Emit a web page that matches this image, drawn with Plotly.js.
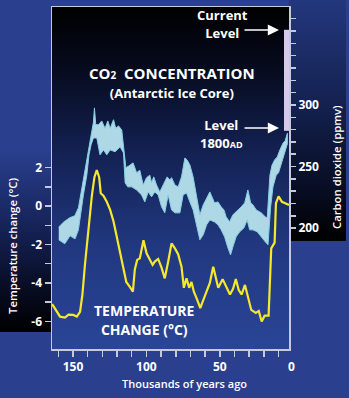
<!DOCTYPE html>
<html><head><meta charset="utf-8">
<script src="https://cdn.plot.ly/plotly-3.0.1.min.js"></script>
<style>
html,body{margin:0;padding:0;background:#2a408f;}
#wrap{position:relative;width:349px;height:398px;overflow:hidden;background:#2a408f;}
.bg{position:absolute;}
#plotbg{left:52px;top:7px;width:237px;height:342px;background:linear-gradient(to bottom,#000000 0%,#060b1e 18%,#121f4e 40%,#213880 70%,#2a4597 100%);}
#rightbg{left:289px;top:0;width:57px;height:241px;background:linear-gradient(to bottom,#23377c 0%,#152354 40%,#070c20 80%,#000 100%);}
#leftbg{left:0;top:150px;width:52px;height:182px;background:linear-gradient(to bottom,#2a408f 0%,#16245a 40%,#060a1c 80%,#000 100%);}
#chart{position:absolute;left:0;top:0;width:349px;height:398px;}
</style></head>
<body>
<div id="wrap">
  <div class="bg" id="plotbg"></div>
  <div class="bg" id="rightbg"></div>
  <div class="bg" id="leftbg"></div>
  <div id="chart"></div>
</div>
<script>
// ---- data (thousands of years ago) ----
const tempAge = [164.2,160.5,158.8,155.4,153.1,149.7,147.4,145.2,143.6,141.8,139.5,137.2,135.4,133.8,132.2,131.1,129.2,127.0,124.7,122.4,120.2,117.9,115.6,113.7,111.3,109.2,107.9,106.3,104.5,102.0,99.9,97.7,95.8,94.3,92.0,89.7,87.5,85.2,82.9,80.6,78.4,76.1,74.5,72.7,70.9,69.3,67.7,65.8,63.3,61.8,59.5,56.8,54.5,51.1,48.1,45.5,43.1,41.0,39.1,37.2,35.2,32.9,31.0,28.6,25.5,23.5,21.5,19.5,16.8,16.0,15.0,12.7,11.8,10.0,7.7,5.5,2.9];
const tempChange = [-5.1,-5.5,-5.75,-5.8,-5.65,-5.66,-5.75,-5.5,-4.6,-3.0,-1.1,0.5,1.5,1.87,1.5,0.66,0.52,0.22,-0.2,-0.8,-1.6,-2.45,-3.3,-3.95,-4.2,-4.45,-3.3,-2.8,-2.72,-1.78,-2.46,-2.8,-3.06,-2.89,-2.75,-3.2,-3.76,-2.9,-1.94,-2.2,-2.5,-3.15,-4.25,-3.76,-4.25,-3.95,-4.45,-4.8,-5.3,-5.0,-4.54,-4.0,-3.15,-4.25,-3.8,-4.2,-4.6,-4.3,-3.8,-4.35,-4.6,-4.1,-4.7,-5.4,-5.55,-5.45,-6.0,-5.7,-5.7,-3.7,-2.2,-1.9,0.14,0.5,0.22,0.14,0.05];

const co2UpperAge = [159.7,156.3,152.2,148.8,146.3,143.6,141.8,139.5,137.7,136.1,135.4,134.5,132.7,130.4,128.2,126.3,124.7,122.4,120.9,119.0,116.8,114.9,114.0,111.3,109.1,106.7,104.5,102.2,99.9,97.7,96.5,95.0,93.1,90.9,88.6,85.9,84.0,82.9,80.6,78.4,76.1,73.8,72.3,70.4,68.2,65.8,63.6,61.3,59.0,56.8,53.6,51.3,49.1,47.2,45.7,43.4,41.1,38.9,35.4,33.1,30.9,29.0,27.5,25.2,21.8,19.1,17.7,15.9,14.5,12.7,10.9,9.1,7.0,5.5,4.0];
const co2Upper = [201,205,208.5,210,216.5,235,249,265,278,286,297.6,284,284,287,281,287,281,288,281,283,279.7,261,249,251,253,245,247,235,241,243,237,241.6,235,229.4,235,241.6,239,241,235,233.5,241.6,257,255.4,251.3,241.6,224.6,210.8,218.9,224.6,229.4,220.5,221.3,217.3,214.8,209.2,205.1,210.8,213.2,217.3,220.5,231,220.5,219,214.8,212.4,209.2,208.4,243,251,255.4,257.8,263.5,269,271,277];
const co2LowerAge = [159.7,155.6,152.0,148.6,146.3,142.9,140.6,139.1,137.7,136.1,133.8,131.6,129.2,127.0,124.7,121.3,117.9,115.6,114.5,112.7,110.0,106.7,103.3,101.1,98.8,96.5,94.3,92.0,89.7,87.5,85.2,82.9,80.6,77.2,75.0,72.7,70.4,68.2,65.8,63.6,61.3,59.0,56.8,53.6,51.3,49.1,46.8,44.5,42.7,41.1,38.9,36.5,33.6,31.4,29.7,27.5,24.5,21.8,19.1,17.2,16.6,15.4,13.8,11.6,10.0,8.7,7.0,5.7,4.0];
const co2Lower = [190.5,187.3,193.8,191.3,198.6,227,243,259.5,267.6,273.2,273.2,259.5,263.5,259.5,263.5,262,266,261,236.7,233.5,233.5,231,227,221.3,229.4,225.4,229.4,227,217.3,212.4,227,214.8,212.4,212.4,227,228.6,221.3,214.8,202.7,190.5,194.6,202.7,206.7,205,202.7,198.6,193,184,178.3,184.8,193,197,200.2,206.7,198.6,198.6,197,193,189,186.5,198.6,217.3,233.5,243,245,249.7,255.4,262,268.4];

const recentAge = [4.6, 4.6];
const recentCO2 = [279, 361];

const xTickVals = [160,150,140,130,120,110,100,90,80,70,60,50,40,30,20,10];
const xTickText = ['','150','','','','','100','','','','','50','','','',''];
const tTickVals = [-6,-5,-4,-3,-2,-1,0,1,2];
const tTickText = ['-6','','-4','','-2','','0','','2'];
const cTickVals = [200,210,220,230,240,250,260,270,280,290,300,310,320,330,340,350,360,370];
const cTickText = ['200','','','','','250','','','','','300','','','','','','',''];

// ---- geometry helpers (plot area in px) ----
const L = 52, R = 289, T = 7, B = 349;
const px = x => (x - L) / (R - L);
const py = y => (B - y) / (B - T);

const bandX = co2UpperAge.concat(co2LowerAge.slice().reverse());
const bandY = co2Upper.concat(co2Lower.slice().reverse());

const traces = [
  {x: bandX, y: bandY, yaxis: 'y2', type: 'scatter', mode: 'lines', fill: 'toself',
   fillcolor: '#aed8e6', line: {color: '#86cfe4', width: 1}, hoverinfo: 'skip'},
  {x: recentAge, y: recentCO2, yaxis: 'y2', type: 'scatter', mode: 'lines',
   line: {color: '#d6c9ea', width: 5}, hoverinfo: 'skip'},
  {x: tempAge, y: tempChange, type: 'scatter', mode: 'lines',
   line: {color: '#f6e82a', width: 2.2}, hoverinfo: 'skip'}
];

const lineCol = '#c6c9de';
const F = '"Open Sans", sans-serif';
const tickFont = {family: F, size: 12, color: '#ffffff', weight: 'bold'};

// base size sets line spacing (1.3 x base); spans carry the visible size
function label(text, x, y, size, weight, extra) {
  return Object.assign({text: text, xref: 'paper', yref: 'paper', x: px(x), y: py(y),
    xanchor: 'center', yanchor: 'middle', showarrow: false, borderpad: 0,
    font: {family: F, size: size, color: '#fff', weight: weight || 'bold'}}, extra || {});
}
const s = (size, t) => '<span style="font-size:' + size + 'px">' + t + '</span>';
function arrow(xHead, yHead, len) {
  return {text: '', xref: 'paper', yref: 'paper', x: px(xHead), y: py(yHead), ax: -len, ay: 0,
    showarrow: true, arrowhead: 2, arrowsize: 1.4, arrowwidth: 1.6, arrowcolor: '#fff'};
}

const ann = [
  label('0', 291, 366, 12),
  label(s(13, 'Current') + '<br>' + s(13, 'Level'), 222, 24, 13.7),
  arrow(279, 30, 36),
  label(s(15, 'CO' + s(10, '2') + '  CONCENTRATION') + '<br>' + s(13, '(Antarctic Ice Core)'), 172, 82, 14.7),
  label(s(13, 'Level') + '<br>' + s(13, '1800' + s(9, 'AD')), 221, 134, 13.7),
  arrow(279, 128, 36),
  label(s(14, 'TEMPERATURE') + '<br>' + s(14, 'CHANGE (°C)'), 144, 320, 14.7),
  label('Thousands of years ago', 184, 383, 11, 600),
  label('Temperature change (°C)', 12, 246, 11.3, 600, {textangle: -90}),
  label('Carbon dioxide (ppmv)', 336, 167, 11.3, 600, {textangle: -90})
];

const layout = {
  width: 349, height: 398,
  margin: {l: 52, r: 60, t: 7, b: 49, pad: 0},
  paper_bgcolor: 'rgba(0,0,0,0)', plot_bgcolor: 'rgba(0,0,0,0)',
  showlegend: false,
  font: {family: F, color: '#fff'},
  xaxis: {range: [164.3, 2.9], showgrid: false, zeroline: false, showline: true, mirror: true,
          linecolor: lineCol, linewidth: 1.5, ticks: 'outside', ticklen: 6, tickwidth: 1.5, tickcolor: lineCol,
          tickmode: 'array', tickvals: xTickVals, ticktext: xTickText, tickfont: tickFont, fixedrange: true},
  yaxis: {range: [-7.43, 10.34], showgrid: false, zeroline: false, showline: true, mirror: true,
          linecolor: lineCol, linewidth: 1.5, ticks: 'outside', ticklen: 6, tickwidth: 1.5, tickcolor: lineCol,
          tickmode: 'array', tickvals: tTickVals, ticktext: tTickText, tickfont: tickFont, fixedrange: true},
  yaxis2: {overlaying: 'y', side: 'right', range: [101.9, 379.5], showgrid: false, zeroline: false, showline: false,
           ticks: 'outside', ticklen: 6, tickwidth: 1.5, tickcolor: lineCol,
           tickmode: 'array', tickvals: cTickVals, ticktext: cTickText, tickfont: tickFont, fixedrange: true},
  annotations: ann
};

Plotly.newPlot('chart', traces, layout, {staticPlot: true, displayModeBar: false});
</script>
</body></html>
